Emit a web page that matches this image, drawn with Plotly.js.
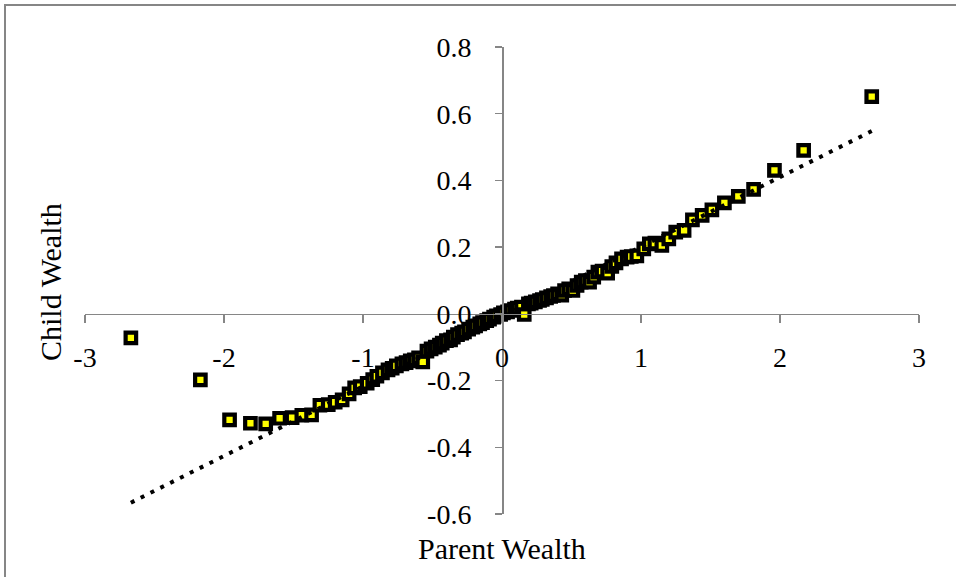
<!DOCTYPE html>
<html>
<head>
<meta charset="utf-8">
<script src="https://cdn.plot.ly/plotly-3.0.1.min.js"></script>
<style>html,body{margin:0;padding:0;background:#fff;}#chart{width:956px;height:577px;}</style>
</head>
<body>
<div id="chart"></div>
<script>
// Parent wealth (x) and child wealth (y)
const parentWealth = [
  -2.67, -2.17, -1.96, -1.81, -1.70, -1.60, -1.51, -1.44, -1.37, -1.31,
  -1.25, -1.20, -1.15, -1.10, -1.06, -1.02, -0.97, -0.93, -0.90, -0.86,
  -0.82, -0.79, -0.76, -0.72, -0.69, -0.66, -0.63, -0.60, -0.57, -0.54,
  -0.51, -0.48, -0.45, -0.43, -0.40, -0.37, -0.35, -0.32, -0.29, -0.27,
  -0.24, -0.21, -0.19, -0.16, -0.14, -0.11, -0.09, -0.06, -0.04, -0.01,
  0.01, 0.04, 0.06, 0.09, 0.11, 0.14, 0.16, 0.19, 0.21, 0.24,
  0.27, 0.29, 0.32, 0.35, 0.37, 0.40, 0.43, 0.45, 0.48, 0.51,
  0.54, 0.57, 0.60, 0.63, 0.66, 0.69, 0.72, 0.76, 0.79, 0.82,
  0.86, 0.90, 0.93, 0.97, 1.02, 1.06, 1.10, 1.15, 1.20, 1.25,
  1.31, 1.37, 1.44, 1.51, 1.60, 1.70, 1.81, 1.96, 2.17, 2.66
];
const childWealth = [
  -0.072, -0.198, -0.318, -0.328, -0.330, -0.313, -0.311, -0.304, -0.303, -0.274,
  -0.272, -0.265, -0.258, -0.240, -0.222, -0.218, -0.208, -0.197, -0.187, -0.177,
  -0.168, -0.163, -0.156, -0.150, -0.146, -0.141, -0.138, -0.132, -0.144, -0.112,
  -0.105, -0.100, -0.094, -0.088, -0.080, -0.078, -0.070, -0.062, -0.058, -0.054,
  -0.046, -0.040, -0.036, -0.030, -0.026, -0.020, -0.016, -0.010, -0.006, -0.002,
  0.003, 0.006, 0.010, 0.014, 0.017, 0.020, -0.002, 0.030, 0.032, 0.036,
  0.040, 0.043, 0.048, 0.052, 0.055, 0.060, 0.056, 0.070, 0.075, 0.070,
  0.085, 0.095, 0.100, 0.095, 0.110, 0.125, 0.128, 0.122, 0.142, 0.153,
  0.165, 0.170, 0.172, 0.174, 0.195, 0.210, 0.212, 0.205, 0.225, 0.245,
  0.250, 0.282, 0.295, 0.312, 0.333, 0.352, 0.373, 0.430, 0.490, 0.651
];
// Linear trendline coefficients
const trendSlope = 0.209;
const trendIntercept = -0.008;

const xTickVals = [-3, -2, -1, 0, 1, 2, 3];
const xTickText = ['-3', '-2', '-1', '0', '1', '2', '3'];
const yTickVals = [-0.6, -0.4, -0.2, 0, 0.2, 0.4, 0.6, 0.8];
const yTickText = ['-0.6', '-0.4', '-0.2', '0.0', '0.2', '0.4', '0.6', '0.8'];
const xTitle = 'Parent Wealth';
const yTitle = 'Child Wealth';

const xMin = Math.min(...parentWealth), xMax = Math.max(...parentWealth);
const trendX = [xMin, xMax];
const trendY = trendX.map(v => trendIntercept + trendSlope * v);

const FONT = 'Liberation Serif, DejaVu Serif, serif';
const AXC = '#868686';

const traces = [
  {
    x: parentWealth, y: childWealth, type: 'scatter', mode: 'markers',
    marker: {symbol: 'square', size: 10.5, color: '#FFFF00', line: {color: '#000000', width: 4.2}},
    hoverinfo: 'skip', showlegend: false
  },
  {
    x: trendX, y: trendY, type: 'scatter', mode: 'lines',
    line: {color: '#000000', width: 4, dash: '4px,7px'},
    hoverinfo: 'skip', showlegend: false
  }
];

const layout = {
  width: 956, height: 577,
  margin: {l: 85, r: 37, t: 47, b: 63},
  paper_bgcolor: '#ffffff', plot_bgcolor: '#ffffff',
  font: {family: FONT, color: '#000000', size: 28},
  showlegend: false,
  xaxis: {
    range: [-3, 3], autorange: false, fixedrange: true,
    anchor: 'free', position: 0.6 / 1.4,
    showgrid: false, zeroline: false,
    showline: true, linecolor: AXC, linewidth: 1.5,
    ticks: 'outside', ticklen: 8, tickwidth: 1.5, tickcolor: AXC,
    tickvals: xTickVals, ticktext: xTickText,
    ticklabelstandoff: 10,
    tickfont: {family: FONT, size: 28, color: '#000000'}
  },
  yaxis: {
    range: [-0.6, 0.8], autorange: false, fixedrange: true,
    anchor: 'free', position: 0.5,
    showgrid: false, zeroline: false,
    showline: true, linecolor: AXC, linewidth: 1.5,
    ticks: 'outside', ticklen: 7, tickwidth: 1.5, tickcolor: AXC,
    tickvals: yTickVals, ticktext: yTickText,
    ticklabelstandoff: 18,
    tickfont: {family: FONT, size: 28, color: '#000000'}
  },
  annotations: [
    {text: xTitle, xref: 'paper', yref: 'paper', x: 0.5, y: (514 - 548) / 467,
     xanchor: 'center', yanchor: 'middle', showarrow: false,
     font: {family: FONT, size: 30, color: '#000000'}},
    {text: yTitle, xref: 'paper', yref: 'paper', x: (50 - 85) / 834, y: (514 - 282) / 467,
     xanchor: 'center', yanchor: 'middle', showarrow: false, textangle: -90,
     font: {family: FONT, size: 30, color: '#000000'}}
  ],
  shapes: [
    {type: 'path', xref: 'paper', yref: 'paper',
     path: 'M ' + ((5 - 85) / 834) + ' ' + ((514 - 590) / 467) +
           ' L ' + ((5 - 85) / 834) + ' ' + (1 + (47 - 5) / 467) +
           ' L ' + ((970 - 85) / 834) + ' ' + (1 + (47 - 5) / 467),
     line: {color: AXC, width: 2}}
  ]
};

Plotly.newPlot('chart', traces, layout, {displayModeBar: false, staticPlot: true});
</script>
</body>
</html>
